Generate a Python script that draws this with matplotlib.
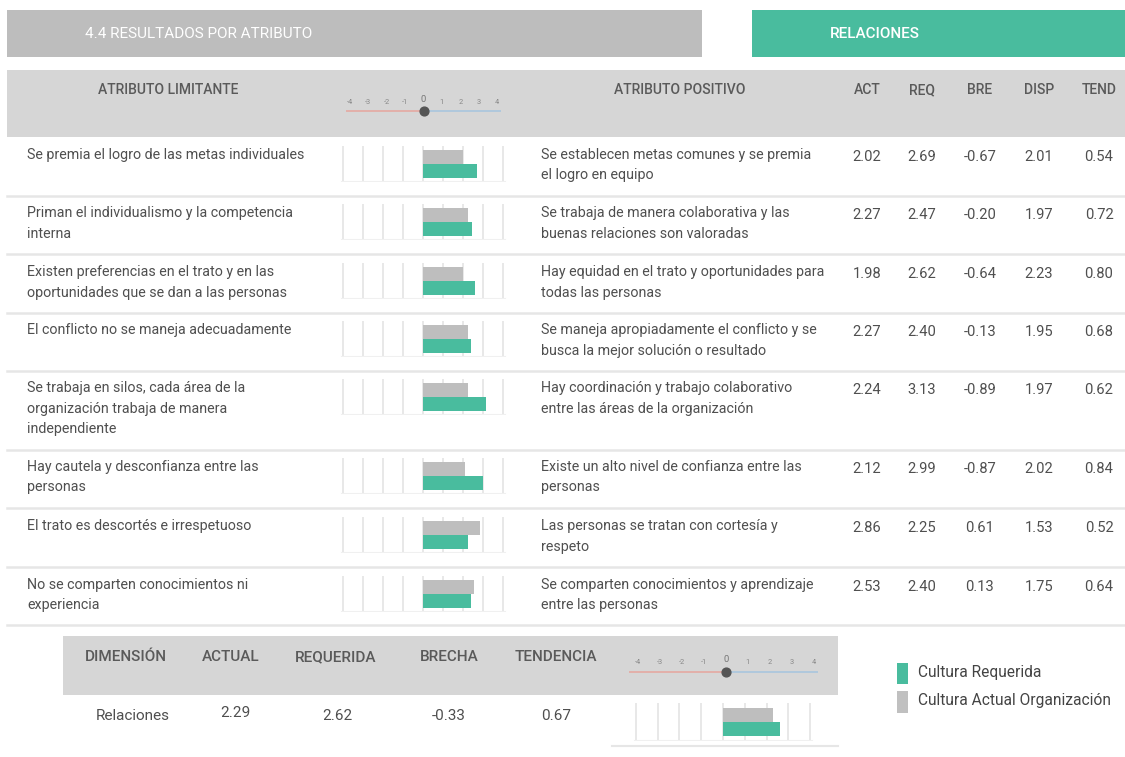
import matplotlib
matplotlib.use("Agg")
import matplotlib.pyplot as plt
from matplotlib.patches import Rectangle

plt.rcParams['font.family'] = ['Roboto', 'DejaVu Sans']

# ---------------- data ----------------
limitantes = [
    "Se premia el logro de las metas individuales",
    "Priman el individualismo y la competencia\ninterna",
    "Existen preferencias en el trato y en las\noportunidades que se dan a las personas",
    "El conflicto no se maneja adecuadamente",
    "Se trabaja en silos, cada área de la\norganización trabaja de manera\nindependiente",
    "Hay cautela y desconfianza entre las\npersonas",
    "El trato es descortés e irrespetuoso",
    "No se comparten conocimientos ni\nexperiencia",
]
positivos = [
    "Se establecen metas comunes y se premia\nel logro en equipo",
    "Se trabaja de manera colaborativa y las\nbuenas relaciones son valoradas",
    "Hay equidad en el trato y oportunidades para\ntodas las personas",
    "Se maneja apropiadamente el conflicto y se\nbusca la mejor solución o resultado",
    "Hay coordinación y trabajo colaborativo\nentre las áreas de la organización",
    "Existe un alto nivel de confianza entre las\npersonas",
    "Las personas se tratan con cortesía y\nrespeto",
    "Se comparten conocimientos y aprendizaje\nentre las personas",
]
act = [2.02, 2.27, 1.98, 2.27, 2.24, 2.12, 2.86, 2.53]
req = [2.69, 2.47, 2.62, 2.40, 3.13, 2.99, 2.25, 2.40]
bre = [-0.67, -0.20, -0.64, -0.13, -0.89, -0.87, 0.61, 0.13]
disp = [2.01, 1.97, 2.23, 1.95, 1.97, 2.02, 1.53, 1.75]
tend = [0.54, 0.72, 0.80, 0.68, 0.62, 0.84, 0.52, 0.64]

value_cols = ["ACT", "REQ", "BRE", "DISP", "TEND"]
scale_ticks = [-4, -3, -2, -1, 0, 1, 2, 3, 4]

dim_headers = ["DIMENSIÓN", "ACTUAL", "REQUERIDA", "BRECHA", "TENDENCIA"]
dim_name = "Relaciones"
dim_act = 2.29
dim_req = 2.62
dim_bre = -0.33
dim_tend = 0.67

legend_labels = ["Cultura Requerida", "Cultura Actual Organización"]

# ---------------- style / layout ----------------
W, H = 1125, 757
GREEN = "#49BC9E"
GRAY_BAR = "#BEBEBE"
HEAD_BG = "#D6D6D6"
TXT = "#4F4F4F"
HEAD_TXT = "#5A5A5A"
GRID = "#E8E8E8"
SEP = "#E6E6E6"
FS_ROW = 10.3

fig = plt.figure(figsize=(W / 100, H / 100), dpi=100)
fig.patch.set_facecolor("white")
ax = fig.add_axes([0, 0, 1, 1])
ax.set_xlim(0, W)
ax.set_ylim(H, 0)
ax.axis("off")


def px_axes(x0, y0, x1, y1):
    a = fig.add_axes([x0 / W, 1 - y1 / H, (x1 - x0) / W, (y1 - y0) / H])
    a.axis("off")
    return a


# top bars
ax.add_patch(Rectangle((7, 10), 695, 47, color="#BDBDBD", lw=0))
ax.text(85, 34, "4.4 RESULTADOS POR ATRIBUTO", color="white", fontsize=11,
        va="center", ha="left")
ax.add_patch(Rectangle((752, 10), 373, 47, color=GREEN, lw=0))
ax.text(830, 34, "RELACIONES", color="white", fontsize=11, va="center",
        ha="left", fontweight="medium")

# header
ax.add_patch(Rectangle((7, 70), 1118, 67, color=HEAD_BG, lw=0))
hy = 90
ax.text(168, hy, "ATRIBUTO LIMITANTE", color=HEAD_TXT, fontsize=10,
        ha="center", va="center", fontweight="medium")
ax.text(680, hy, "ATRIBUTO POSITIVO", color=HEAD_TXT, fontsize=10,
        ha="center", va="center", fontweight="medium")
col_x = [867, 922, 980, 1039, 1099]
for cx, name in zip(col_x, value_cols):
    ax.text(cx, hy, name, color=HEAD_TXT, fontsize=10, ha="center",
            va="center", fontweight="medium")


def draw_scale(x0, x1, y_line, unit_lo, unit_hi, lab_size):
    sa = px_axes(x0, y_line - 20, x1, y_line + 6)
    sa.set_xlim(unit_lo, unit_hi)
    sa.set_ylim(-6, 20)
    sa.plot([unit_lo, 0], [0, 0], color="#E5A9A2", lw=1.2, solid_capstyle="butt")
    sa.plot([0, unit_hi], [0, 0], color="#A9C6DE", lw=1.2, solid_capstyle="butt")
    sa.scatter([0], [0], s=40, color="#555555", zorder=3)
    for t in scale_ticks:
        if t == 0:
            sa.text(t, 12, "0", fontsize=lab_size + 1.5, color="#777777",
                    ha="center", va="center")
        else:
            sa.text(t, 9, str(t), fontsize=lab_size, color="#888888",
                    ha="center", va="center")


draw_scale(346, 501, 111, -4.22, 4.22, 5.3)


def mini_chart(x0, x1, yc, a_val, r_val, half_h=18, bar_h=14):
    ma = px_axes(x0, yc - half_h, x1, yc + half_h)
    ma.set_xlim(-4.5, 4.5)
    total = 2 * half_h
    lo = -0.5 - (total / 2 - bar_h) / bar_h
    hi = 1.5 + (total / 2 - bar_h) / bar_h
    ma.set_ylim(lo, hi)
    for t in scale_ticks:
        ma.plot([t, t], [lo, hi], color=GRID, lw=1.4, zorder=1)
    ma.plot([-4.1, 4.1], [lo + 0.03, lo + 0.03], color="#F0F0F0", lw=0.8, zorder=1)
    ma.barh([1], [a_val], height=1.0, left=0, color=GRAY_BAR, zorder=2)
    ma.barh([0], [r_val], height=1.0, left=0, color=GREEN, zorder=3)
    return ma


text_y = [155, 213, 272, 330, 388, 467, 526, 585]
sep_y = [196, 254, 313, 371, 450, 508, 567, 625]
LINE = 20.5

for i in range(len(act)):
    ty = text_y[i]
    for k, line in enumerate(limitantes[i].split("\n")):
        ax.text(27, ty + k * LINE, line, fontsize=FS_ROW, color=TXT,
                ha="left", va="center")
    for k, line in enumerate(positivos[i].split("\n")):
        ax.text(541, ty + k * LINE, line, fontsize=FS_ROW, color=TXT,
                ha="left", va="center")
    vals = [act[i], req[i], bre[i], disp[i], tend[i]]
    for cx, v in zip(col_x, vals):
        ax.text(cx, ty + 2, f"{v:.2f}", fontsize=FS_ROW + 0.3, color=TXT,
                ha="center", va="center")
    mini_chart(333, 513, ty + 8.5, act[i], req[i])
    ax.plot([7, 1125], [sep_y[i], sep_y[i]], color=SEP, lw=1.8)

# ---------------- bottom dimension summary ----------------
ax.add_patch(Rectangle((63, 636), 775, 59, color=HEAD_BG, lw=0))
dim_x = [126, 231, 336, 449, 556]
for cx, name in zip(dim_x, dim_headers):
    ax.text(cx, 657, name, color=HEAD_TXT, fontsize=11, ha="center",
            va="center", fontweight="medium")
FS_B = 11
ax.text(133, 716, dim_name, color=TXT, fontsize=FS_B, ha="center", va="center")
ax.text(235, 713, f"{dim_act:.2f}", color=TXT, fontsize=FS_B, ha="center", va="center")
ax.text(337, 716, f"{dim_req:.2f}", color=TXT, fontsize=FS_B, ha="center", va="center")
ax.text(449, 716, f"{dim_bre:.2f}", color=TXT, fontsize=FS_B, ha="center", va="center")
ax.text(556, 716, f"{dim_tend:.2f}", color=TXT, fontsize=FS_B, ha="center", va="center")

draw_scale(629, 818, 672, -4.4, 4.2, 5.3)
mini_chart(625, 821, 721.5, dim_act, dim_req, half_h=19, bar_h=14)
ax.plot([612, 838], [746, 746], color=SEP, lw=1.5)

# legend
ax.add_patch(Rectangle((897, 663), 11, 21, color=GREEN, lw=0))
ax.add_patch(Rectangle((897, 691), 11, 22, color="#C0C0C0", lw=0))
ax.text(918, 673, legend_labels[0], color="#444444", fontsize=11.2,
        ha="left", va="center")
ax.text(918, 701, legend_labels[1], color="#444444", fontsize=11.2,
        ha="left", va="center")

fig.savefig("out.png", dpi=100, facecolor="white")
